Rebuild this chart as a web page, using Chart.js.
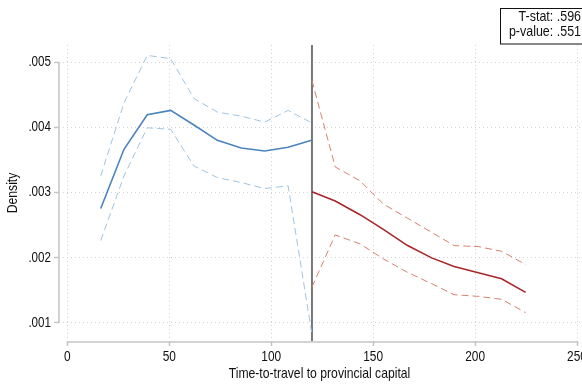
<!DOCTYPE html>
<html>
<head>
<meta charset="utf-8">
<script src="https://cdn.jsdelivr.net/npm/chart.js@4/dist/chart.umd.min.js"></script>
<style>
  html, body { margin: 0; padding: 0; background: #fff; overflow: hidden; }
  #wrap { width: 600px; height: 386px; }
</style>
</head>
<body>
<div id="wrap"><canvas id="c" width="600" height="386"></canvas></div>
<script>
// ---- data ----
const leftX      = [16.4, 27.8, 39.2, 50.7, 62.1, 73.6, 85.3, 96.8, 108.3, 119.8];
const leftFit    = [0.002756, 0.003663, 0.004191, 0.004258, 0.004034, 0.003800, 0.003682, 0.003637, 0.003693, 0.003800];
const leftUpper  = [0.003255, 0.004374, 0.005102, 0.005052, 0.004441, 0.004232, 0.004171, 0.004079, 0.004258, 0.004069];
const leftLower  = [0.002263, 0.003255, 0.003992, 0.003968, 0.003408, 0.003229, 0.003153, 0.003061, 0.003102, 0.000863];

const rightX     = [120, 131.4, 143.6, 155.0, 166.7, 178.7, 189.7, 201.6, 213.0, 224.8];
const rightFit   = [0.003011, 0.002869, 0.002660, 0.002435, 0.002191, 0.001998, 0.001866, 0.001769, 0.001678, 0.001469];
const rightUpper = [0.004716, 0.003392, 0.003179, 0.002823, 0.002609, 0.002389, 0.002186, 0.002171, 0.002099, 0.001896];
const rightLower = [0.001550, 0.002350, 0.002212, 0.001983, 0.001779, 0.001602, 0.001434, 0.001408, 0.001363, 0.001159];

const cutoff = 120;
const xTicks = [0, 50, 100, 150, 200, 250];
const yTicks = [0.001, 0.002, 0.003, 0.004, 0.005];
const statLines = ['T-stat: .596', 'p-value: .551'];
const xTitle = 'Time-to-travel to provincial capital';
const yTitle = 'Density';

// ---- chart ----
const FONT = "'Liberation Sans', Arial, sans-serif";
Chart.defaults.font.family = FONT;

const pts = (xs, ys) => xs.map((v, i) => ({ x: v, y: ys[i] }));
const fmtY = v => String(+v.toFixed(3)).replace(/^0/, '');

const BLUE = 'rgb(74,131,189)', BLUE_L = 'rgb(160,196,226)';
const RED = 'rgb(168,38,42)', RED_L = 'rgb(214,128,108)';

function line(data, color, dashed) {
  return {
    data, borderColor: color, backgroundColor: color,
    borderWidth: dashed ? 1 : 1.6,
    borderDash: dashed ? [7, 4] : [],
    pointRadius: 0, tension: 0, fill: false
  };
}

// narrow text: Liberation Sans squeezed horizontally
function txt(ctx, s, x, y, size, align, rot, sx) {
  ctx.save();
  ctx.translate(x, y);
  if (rot) ctx.rotate(rot);
  ctx.scale(sx, 1);
  ctx.font = size + 'px ' + FONT;
  ctx.fillStyle = '#111';
  ctx.textAlign = align;
  ctx.textBaseline = 'middle';
  ctx.fillText(s, 0, 0);
  ctx.restore();
}

const decor = {
  id: 'decor',
  beforeDatasetsDraw(chart) {
    const { ctx, chartArea: a, scales: { x, y } } = chart;
    ctx.save();
    ctx.strokeStyle = '#c4c4c4';
    ctx.lineWidth = 1.5;
    ctx.beginPath();
    ctx.moveTo(a.left, y.getPixelForValue(yTicks[yTicks.length - 1]));
    ctx.lineTo(a.left, y.getPixelForValue(yTicks[0]));
    ctx.stroke();
    ctx.beginPath();
    ctx.moveTo(x.getPixelForValue(xTicks[0]), a.bottom + 1);
    ctx.lineTo(x.getPixelForValue(xTicks[xTicks.length - 1]), a.bottom + 1);
    ctx.stroke();
    const px = x.getPixelForValue(cutoff);
    ctx.strokeStyle = '#777';
    ctx.lineWidth = 2;
    ctx.beginPath();
    ctx.moveTo(px, a.top);
    ctx.lineTo(px, a.bottom);
    ctx.stroke();
    ctx.restore();
  },
  afterDraw(chart) {
    const { ctx, chartArea: a, scales: { x, y } } = chart;
    // tick labels
    xTicks.forEach(v => txt(ctx, String(v), x.getPixelForValue(v), a.bottom + 16, 14, 'center', 0, 0.85));
    yTicks.forEach(v => txt(ctx, fmtY(v), a.left - 8, y.getPixelForValue(v), 14, 'right', 0, 0.83));
    // axis titles
    txt(ctx, xTitle, (a.left + a.right) / 2 - 3, a.bottom + 33, 14.5, 'center', 0, 0.84);
    txt(ctx, yTitle, 13, (a.top + a.bottom) / 2, 14.5, 'center', -Math.PI / 2, 0.84);
    // stats box
    ctx.save();
    ctx.strokeStyle = '#111';
    ctx.lineWidth = 1;
    ctx.strokeRect(500.5, 8.5, 90, 35.5);
    ctx.restore();
    txt(ctx, statLines[0], 581, 17, 14.5, 'right', 0, 0.86);
    txt(ctx, statLines[1], 581, 32, 14.5, 'right', 0, 0.86);
  }
};

new Chart(document.getElementById('c'), {
  type: 'line',
  data: {
    datasets: [
      line(pts(leftX, leftUpper), BLUE_L, true),
      line(pts(leftX, leftLower), BLUE_L, true),
      line(pts(leftX, leftFit), BLUE, false),
      line(pts(rightX, rightUpper), RED_L, true),
      line(pts(rightX, rightLower), RED_L, true),
      line(pts(rightX, rightFit), RED, false)
    ]
  },
  options: {
    responsive: false,
    animation: false,
    devicePixelRatio: 1,
    layout: { padding: { top: 45, right: 14, bottom: 0, left: 0 } },
    plugins: { legend: { display: false }, tooltip: { enabled: false } },
    scales: {
      x: {
        type: 'linear',
        min: -4.07, max: 254.4,
        afterBuildTicks: s => { s.ticks = xTicks.map(v => ({ value: v })); },
        afterFit: s => { s.height = 45; },
        ticks: { display: false },
        grid: { color: '#d2d2d2', lineWidth: 1, tickLength: 5, tickColor: '#c4c4c4', tickWidth: 1.5, tickBorderDash: [] },
        border: { display: false, dash: [1, 3] }
      },
      y: {
        type: 'linear',
        min: 0.000724, max: 0.005261,
        afterBuildTicks: s => { s.ticks = yTicks.map(v => ({ value: v })); },
        afterFit: s => { s.width = 59; },
        ticks: { display: false },
        grid: { color: '#d2d2d2', lineWidth: 1, tickLength: 5, tickColor: '#c4c4c4', tickWidth: 1.5, tickBorderDash: [] },
        border: { display: false, dash: [1, 3] }
      }
    }
  },
  plugins: [decor]
});
</script>
</body>
</html>
